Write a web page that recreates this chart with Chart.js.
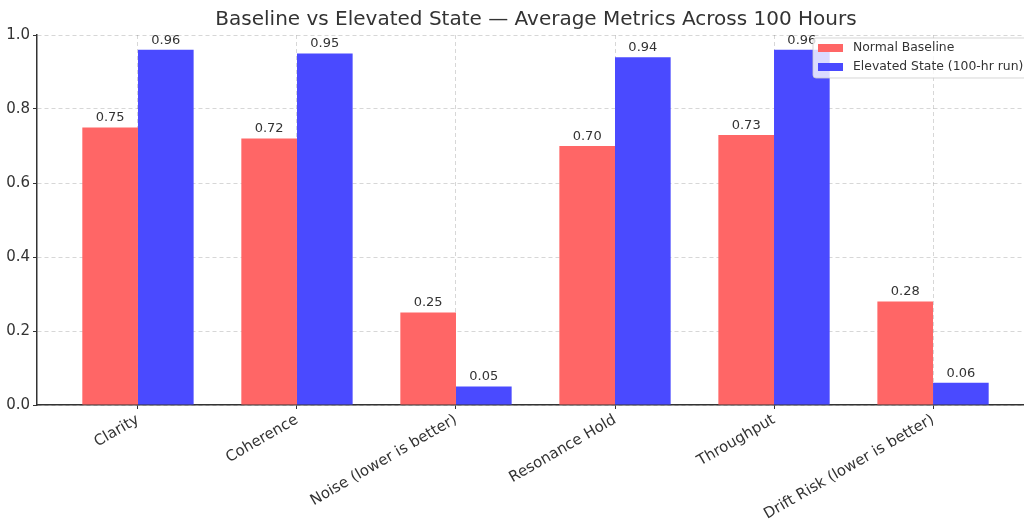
<!DOCTYPE html>
<html>
<head>
<meta charset="utf-8">
<script src="https://cdn.jsdelivr.net/npm/chart.js@4/dist/chart.umd.min.js"></script>
<style>
    html, body { margin: 0; padding: 0; background: #fff; overflow: hidden; }
    #wrap { width: 1072px; height: 528px; }
</style>
</head>
<body>
<div id="wrap"><canvas id="metricsChart" width="1072" height="528"></canvas></div>
<script>
// Baseline vs elevated metrics

const categories = ['Clarity', 'Coherence', 'Noise (lower is better)', 'Resonance Hold', 'Throughput', 'Drift Risk (lower is better)'];
const baselineValues = [0.75, 0.72, 0.25, 0.70, 0.73, 0.28];
const elevatedValues = [0.96, 0.95, 0.05, 0.94, 0.96, 0.06];
const yTicks = [0, 0.2, 0.4, 0.6, 0.8, 1.0];

const FONT = "'DejaVu Sans', sans-serif";
const TEXT = '#333333';

// value labels above each bar
const valueLabels = {
    id: 'valueLabels',
    afterDatasetsDraw(chart) {
        const ctx = chart.ctx;
        ctx.save();
        ctx.font = '13px ' + FONT;
        ctx.fillStyle = TEXT;
        ctx.textAlign = 'center';
        ctx.textBaseline = 'bottom';
        chart.data.datasets.forEach((ds, i) => {
            chart.getDatasetMeta(i).data.forEach((bar, j) => {
                ctx.fillText(ds.data[j].y.toFixed(2), bar.x, bar.y - 3);
            });
        });
        ctx.restore();
    }
};

// legend inside the plot, upper right
const innerLegend = {
    id: 'innerLegend',
    afterLayout(chart) {
        // centre the title over the whole plot (its right side runs past the window)
        if (chart.titleBlock) chart.titleBlock.right = chart.width;
    },
    afterDraw(chart) {
        const ctx = chart.ctx;
        const area = chart.chartArea;
        const w = 216, h = 40;
        const x = area.right - 5 - w, y = area.top + 3;
        ctx.save();
        ctx.fillStyle = 'rgba(255,255,255,0.8)';
        ctx.strokeStyle = 'rgba(204,204,204,0.8)';
        ctx.lineWidth = 1;
        ctx.beginPath();
        ctx.roundRect(x, y, w, h, 3);
        ctx.fill();
        ctx.stroke();
        ctx.font = '12.4px ' + FONT;
        ctx.textBaseline = 'middle';
        chart.data.datasets.forEach((ds, i) => {
            const cy = y + 10 + i * 19;
            ctx.fillStyle = ds.backgroundColor;
            ctx.fillRect(x + 5, cy - 4, 25, 8);
            ctx.fillStyle = TEXT;
            ctx.fillText(ds.label, x + 40, cy);
        });
        ctx.restore();
    }
};

function toPoints(values) {
    return values.map((v, i) => ({ x: i, y: v }));
}

function createMetricsChart() {
    const el = document.getElementById('metricsChart');
    if (!el) return;

    new Chart(el.getContext('2d'), {
        type: 'bar',
        data: {
            datasets: [
                {
                    label: 'Normal Baseline',
                    data: toPoints(baselineValues),
                    backgroundColor: '#ff6666',
                    categoryPercentage: 0.7,
                    barPercentage: 1.0
                },
                {
                    label: 'Elevated State (100-hr run)',
                    data: toPoints(elevatedValues),
                    backgroundColor: '#4a4aff',
                    categoryPercentage: 0.7,
                    barPercentage: 1.0
                }
            ]
        },
        options: {
            responsive: false,
            animation: false,
            layout: { padding: { left: 0, right: 38, top: 0, bottom: 0 } },
            plugins: {
                legend: { display: false },
                tooltip: { enabled: false },
                title: {
                    display: true,
                    text: 'Baseline vs Elevated State \u2014 Average Metrics Across 100 Hours',
                    color: TEXT,
                    font: { family: FONT, size: 20, weight: 'normal' },
                    padding: { top: 8, bottom: 3 }
                }
            },
            scales: {
                x: {
                    type: 'linear',
                    offset: false,
                    min: -0.635,
                    max: categories.length - 1 + 0.635,
                    afterBuildTicks(scale) {
                        scale.ticks = categories.map((c, i) => ({ value: i }));
                    },
                    afterFit(scale) { scale.height = 123; },
                    ticks: {
                        minRotation: 30,
                        maxRotation: 30,
                        autoSkip: false,
                        padding: 2,
                        color: TEXT,
                        font: { family: FONT, size: 15 },
                        callback: (v) => categories[v]
                    },
                    grid: {
                        offset: false,
                        color: 'rgba(0,0,0,0.2)',
                        lineWidth: 0.8,
                        tickColor: TEXT,
                        tickLength: 4,
                        tickWidth: 1
                    },
                    border: { color: TEXT, width: 1.5, dash: [4, 3] }
                },
                y: {
                    min: 0,
                    max: 1,
                    afterBuildTicks(scale) {
                        scale.ticks = yTicks.map(v => ({ value: v }));
                    },
                    afterFit(scale) { scale.width = 37; },
                    ticks: {
                        padding: 3,
                        color: TEXT,
                        font: { family: FONT, size: 15 },
                        callback: (v) => v.toFixed(1)
                    },
                    grid: {
                        color: 'rgba(0,0,0,0.2)',
                        lineWidth: 0.8,
                        tickColor: TEXT,
                        tickLength: 4,
                        tickWidth: 1
                    },
                    border: { color: TEXT, width: 1.5, dash: [4, 3] }
                }
            }
        },
        plugins: [valueLabels, innerLegend]
    });
}

document.addEventListener('DOMContentLoaded', function() {
    if (typeof Chart !== 'undefined') {
        createMetricsChart();
    }
});
</script>
</body>
</html>
